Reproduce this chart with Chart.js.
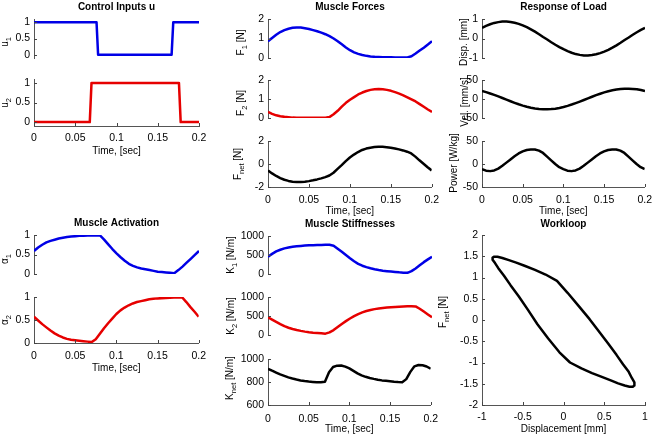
<!DOCTYPE html>
<html>
<head>
<meta charset="utf-8">
<script src="https://cdn.jsdelivr.net/npm/chart.js@4.4.0/dist/chart.umd.min.js"></script>
<style>
html, body { margin: 0; padding: 0; background: #fff; }
#fig { position: relative; width: 655px; height: 438px; overflow: hidden; }
#fig canvas { position: absolute; }
</style>
</head>
<body>
<div id="fig"></div>
<script>
// sample times, [sec]
const time = [0, 0.005, 0.01, 0.015, 0.02, 0.025, 0.03, 0.035, 0.04, 0.045, 0.05,
    0.055, 0.06, 0.065, 0.07, 0.075, 0.08, 0.085, 0.09, 0.095, 0.1,
    0.105, 0.11, 0.115, 0.12, 0.125, 0.13, 0.135, 0.14, 0.145, 0.15,
    0.155, 0.16, 0.165, 0.17, 0.175, 0.18, 0.185, 0.19, 0.195, 0.2];

// control inputs (switching points)
const u1Time = [0, 0.0758, 0.0777, 0.1668, 0.1688, 0.2];
const u1Val = [1, 1, 0, 0, 1, 1];
const u2Time = [0, 0.0676, 0.0697, 0.1757, 0.1778, 0.2];
const u2Val = [0, 0, 1, 1, 0, 0];

// muscle forces [N]
const force1 = [0.86, 1.03, 1.19, 1.33, 1.43, 1.50, 1.55, 1.57, 1.56, 1.53, 1.49,
    1.43, 1.37, 1.30, 1.22, 1.12, 1.00, 0.86, 0.70, 0.54, 0.40,
    0.29, 0.21, 0.15, 0.11, 0.08, 0.06, 0.05, 0.04, 0.04, 0.04,
    0.03, 0.03, 0.03, 0.03, 0.09, 0.23, 0.38, 0.53, 0.69, 0.86];
const force2 = [0.32, 0.22, 0.14, 0.09, 0.06, 0.04, 0.02, 0.01, 0.01, 0.01, 0.01,
    0.01, 0.01, 0.01, 0.01, 0.05, 0.20, 0.38, 0.60, 0.80, 0.96,
    1.10, 1.24, 1.34, 1.42, 1.48, 1.51, 1.52, 1.51, 1.48, 1.43,
    1.36, 1.28, 1.19, 1.09, 0.98, 0.87, 0.73, 0.59, 0.45, 0.32];
const forceNet = [-0.56, -0.82, -1.04, -1.22, -1.37, -1.47, -1.54, -1.57, -1.57, -1.54, -1.49,
    -1.42, -1.34, -1.25, -1.14, -1.00, -0.76, -0.43, -0.10, 0.25, 0.56,
    0.82, 1.04, 1.22, 1.34, 1.42, 1.47, 1.49, 1.49, 1.46, 1.41,
    1.35, 1.27, 1.18, 1.07, 0.92, 0.64, 0.32, 0.02, -0.28, -0.56];

// response of load
const disp = [0.55, 0.65, 0.73, 0.80, 0.84, 0.87, 0.87, 0.85, 0.81, 0.75, 0.67,
    0.58, 0.47, 0.35, 0.22, 0.08, -0.05, -0.19, -0.32, -0.44, -0.55,
    -0.65, -0.73, -0.80, -0.84, -0.87, -0.87, -0.85, -0.81, -0.75, -0.67,
    -0.58, -0.47, -0.35, -0.22, -0.08, 0.05, 0.19, 0.32, 0.44, 0.55];
const vel = [21, 18, 14.6, 10.8, 6.8, 2.6, -1.7, -5.9, -10, -13.9, -17.4,
    -20.5, -23, -25, -26.4, -27.2, -27.2, -26.6, -25.4, -23.5, -21,
    -18, -14.6, -10.8, -6.8, -2.6, 1.7, 5.9, 10, 13.9, 17.4,
    20.5, 23, 25, 26.4, 27.2, 27.2, 26.6, 25.4, 23.5, 21];
const power = [-11, -14.5, -15.5, -14, -10, -4, 3, 10, 17, 23, 27.5,
    30.5, 31.5, 31.5, 29, 24, 16, 8, 0, -7, -11,
    -14.5, -15.5, -14, -10, -4, 3, 10, 17, 23, 27.5,
    30.5, 31.5, 31.5, 29, 24, 16, 8, 0, -7, -11];

// muscle activation
const act1 = [0.59, 0.68, 0.75, 0.81, 0.85, 0.88, 0.91, 0.93, 0.95, 0.96, 0.97,
    0.98, 0.98, 0.99, 0.99, 0.99, 0.99, 0.88, 0.76, 0.64, 0.53,
    0.43, 0.34, 0.26, 0.21, 0.17, 0.14, 0.12, 0.10, 0.08, 0.06,
    0.05, 0.04, 0.03, 0.02, 0.10, 0.19, 0.29, 0.39, 0.49, 0.59];
const act2 = [0.57, 0.49, 0.41, 0.34, 0.27, 0.21, 0.16, 0.12, 0.09, 0.07, 0.06,
    0.05, 0.04, 0.03, 0.02, 0.08, 0.20, 0.32, 0.43, 0.53, 0.63,
    0.71, 0.77, 0.82, 0.86, 0.89, 0.91, 0.93, 0.95, 0.96, 0.97,
    0.975, 0.98, 0.985, 0.99, 0.99, 0.99, 0.89, 0.78, 0.68, 0.57];

// muscle stiffnesses [N/m]
const stiff1 = [456, 530, 594, 638, 674, 698, 717, 729, 739, 747, 754,
    758, 761, 764, 768, 772, 745, 665, 585, 500, 415,
    335, 268, 218, 181, 150, 123, 103, 87, 75, 65,
    53, 43, 36, 30, 75, 145, 228, 312, 385, 456];
const stiff2 = [465, 405, 348, 288, 232, 192, 159, 132, 109, 89, 72,
    60, 51, 43, 36, 70, 130, 210, 290, 365, 435,
    498, 551, 595, 630, 658, 681, 697, 710, 722, 732,
    740, 746, 750, 754, 758, 752, 690, 616, 540, 465];
const stiffNet = [915, 898, 882, 866, 853, 840, 830, 821, 813, 808, 804,
    801, 798, 797, 802, 885, 930, 942, 944, 934, 918,
    897, 875, 858, 845, 835, 827, 820, 814, 810, 806,
    802, 799, 797, 825, 888, 936, 948, 946, 935, 915];

// tick values
const timeTicks = [0, 0.05, 0.1, 0.15, 0.2];
const uTicks = [0, 0.5, 1];
const fTicks = [0, 1, 2];
const fNetTicks = [-2, 0, 2];
const dispTicks = [-1, 0, 1];
const velTicks = [-50, 0, 50];
const powerTicks = [-50, 0, 50];
const actTicks = [0, 0.5, 1];
const kTicks = [0, 500, 1000];
const kNetTicks = [600, 800, 1000];
const loopXTicks = [-1, -0.5, 0, 0.5, 1];
const loopYTicks = [-2, -1.5, -1, -0.5, 0, 0.5, 1, 1.5, 2];

const FONT = '"Liberation Sans", Arial, Helvetica, sans-serif';
const BLUE = '#0000e6';
const RED = '#e60000';
const BLACK = '#000000';
const fig = document.getElementById('fig');

function pts(xs, ys) {
    return xs.map((x, i) => ({ x: x, y: ys[i] }));
}

// titles, axis labels (with subscripts) and inward tick marks
const panelText = {
    id: 'panelText',
    afterDraw(chart, args, o) {
        const ctx = chart.ctx;
        const area = chart.chartArea;
        ctx.save();
        ctx.strokeStyle = '#444';
        ctx.lineWidth = 1;
        const ys = chart.scales.y;
        ys.ticks.forEach(t => {
            const p = Math.round(ys.getPixelForValue(t.value)) + 0.5;
            ctx.beginPath();
            ctx.moveTo(area.left, p);
            ctx.lineTo(area.left + 3, p);
            ctx.stroke();
        });
        if (o.showX) {
            const xs = chart.scales.x;
            xs.ticks.forEach(t => {
                const p = Math.round(xs.getPixelForValue(t.value)) + 0.5;
                ctx.beginPath();
                ctx.moveTo(p, area.bottom);
                ctx.lineTo(p, area.bottom - 3);
                ctx.stroke();
            });
        }
        ctx.fillStyle = '#000';
        const cx = (area.left + area.right) / 2;
        if (o.title) {
            ctx.font = 'bold 10px ' + FONT;
            ctx.textAlign = 'center';
            ctx.textBaseline = 'middle';
            ctx.fillText(o.title, cx, o.titleY - o.oy);
        }
        if (o.xlab) {
            ctx.font = '10px ' + FONT;
            ctx.textAlign = 'center';
            ctx.textBaseline = 'middle';
            ctx.fillText(o.xlab, cx, o.xlabY - o.oy);
        }
        if (o.ylab) {
            ctx.translate(o.ylabX - o.ox, o.ylabY - o.oy);
            ctx.rotate(-Math.PI / 2);
            ctx.textAlign = 'left';
            ctx.textBaseline = 'alphabetic';
            let total = 0;
            o.ylab.forEach(p => {
                ctx.font = (p[1] ? '7.5px ' : '10px ') + FONT;
                total += ctx.measureText(p[0]).width;
            });
            let x = -total / 2;
            o.ylab.forEach(p => {
                ctx.font = (p[1] ? '7.5px ' : '10px ') + FONT;
                ctx.fillText(p[0], x, p[1] ? 3 : 0);
                x += ctx.measureText(p[0]).width;
            });
        }
        ctx.restore();
    }
};

function panel(c) {
    const ml = 50, mt = 22, mr = 14;
    const mb = c.xTicks ? 36 : 8;
    const cw = c.w + ml + mr, ch = c.h + mt + mb;
    const ox = c.l - ml, oy = c.t - mt;
    const cv = document.createElement('canvas');
    cv.width = cw;
    cv.height = ch;
    cv.style.left = ox + 'px';
    cv.style.top = oy + 'px';
    cv.style.width = cw + 'px';
    cv.style.height = ch + 'px';
    fig.appendChild(cv);

    const tickFont = { family: FONT, size: 10.5 };
    new Chart(cv, {
        type: 'scatter',
        data: {
            datasets: c.series.map(s => ({
                data: s.data,
                showLine: true,
                borderColor: s.color,
                borderWidth: 2.5,
                borderJoinStyle: 'round',
                pointRadius: 0,
                tension: 0,
                fill: false
            }))
        },
        options: {
            responsive: false,
            animation: false,
            events: [],
            layout: { padding: { left: 0, top: mt, right: mr, bottom: c.xTicks ? 0 : mb } },
            plugins: {
                legend: { display: false },
                tooltip: { enabled: false },
                panelText: {
                    ox: ox, oy: oy, showX: !!c.xTicks,
                    title: c.title, titleY: c.titleY,
                    xlab: c.xlab, xlabY: c.xlabY,
                    ylab: c.ylab, ylabX: c.ylabX, ylabY: c.ylabY
                }
            },
            scales: {
                x: {
                    type: 'linear',
                    min: c.xMin, max: c.xMax,
                    display: !!c.xTicks,
                    afterBuildTicks: s => { if (c.xTicks) s.ticks = c.xTicks.map(v => ({ value: v })); },
                    afterFit: s => { s.height = mb; },
                    grid: { display: false, drawTicks: false },
                    border: { display: true, color: '#555', width: 1 },
                    ticks: { font: tickFont, color: '#000', padding: c.xPad || 7, maxRotation: 0, autoSkip: false,
                        callback: v => String(v) }
                },
                y: {
                    type: 'linear',
                    min: c.yMin, max: c.yMax,
                    afterBuildTicks: s => { s.ticks = c.yTicks.map(v => ({ value: v })); },
                    afterFit: s => { s.width = ml; },
                    grid: { display: false, drawTicks: false },
                    border: { display: true, color: '#555', width: 1 },
                    ticks: { font: tickFont, color: '#000', padding: 4, autoSkip: false,
                        callback: v => String(v) }
                }
            }
        },
        plugins: [panelText]
    });
}

// Control Inputs u
panel({ l: 34, t: 19, w: 165, h: 47, xMin: 0, xMax: 0.2, yMin: -0.1, yMax: 1.1, yTicks: uTicks,
    series: [{ data: pts(u1Time, u1Val), color: BLUE }],
    title: 'Control Inputs u', titleY: 7, ylab: [['u', 0], ['1', 1]], ylabX: 7.5, ylabY: 42 });
panel({ l: 34, t: 79, w: 165, h: 47, xMin: 0, xMax: 0.2, yMin: -0.1, yMax: 1.1, yTicks: uTicks, xTicks: timeTicks, xPad: 6,
    series: [{ data: pts(u2Time, u2Val), color: RED }],
    xlab: 'Time, [sec]', xlabY: 151.5, ylab: [['u', 0], ['2', 1]], ylabX: 7.5, ylabY: 103 });

// Muscle Forces
panel({ l: 268, t: 19, w: 164, h: 47, xMin: 0, xMax: 0.2, yMin: 0, yMax: 2, yTicks: fTicks,
    series: [{ data: pts(time, force1), color: BLUE }],
    title: 'Muscle Forces', titleY: 7, ylab: [['F', 0], ['1', 1], [' [N]', 0]], ylabX: 244, ylabY: 42.5 });
panel({ l: 268, t: 80, w: 164, h: 46, xMin: 0, xMax: 0.2, yMin: 0, yMax: 2, yTicks: fTicks,
    series: [{ data: pts(time, force2), color: RED }],
    ylab: [['F', 0], ['2', 1], [' [N]', 0]], ylabX: 244, ylabY: 103 });
panel({ l: 268, t: 141, w: 164, h: 46, xMin: 0, xMax: 0.2, yMin: -2, yMax: 2, yTicks: fNetTicks, xTicks: timeTicks,
    series: [{ data: pts(time, forceNet), color: BLACK }],
    xlab: 'Time, [sec]', xlabY: 211.5, ylab: [['F', 0], ['net', 1], [' [N]', 0]], ylabX: 240.5, ylabY: 164 });

// Response of Load
panel({ l: 482, t: 19, w: 163, h: 47, xMin: 0, xMax: 0.2, yMin: -1, yMax: 1, yTicks: dispTicks,
    series: [{ data: pts(time, disp), color: BLACK }],
    title: 'Response of Load', titleY: 7, ylab: [['Disp. [mm]', 0]], ylabX: 467, ylabY: 42 });
panel({ l: 482, t: 80, w: 163, h: 46, xMin: 0, xMax: 0.2, yMin: -50, yMax: 50, yTicks: velTicks,
    series: [{ data: pts(time, vel), color: BLACK }],
    ylab: [['Vel. [mm/s]', 0]], ylabX: 467.5, ylabY: 102 });
panel({ l: 482, t: 141, w: 163, h: 46, xMin: 0, xMax: 0.2, yMin: -50, yMax: 50, yTicks: powerTicks, xTicks: timeTicks,
    series: [{ data: pts(time, power), color: BLACK }],
    xlab: 'Time, [sec]', xlabY: 211.5, ylab: [['Power [W/kg]', 0]], ylabX: 456.5, ylabY: 163 });

// Muscle Activation
panel({ l: 34, t: 235, w: 165, h: 47, xMin: 0, xMax: 0.2, yMin: 0, yMax: 1, yTicks: actTicks,
    series: [{ data: pts(time, act1), color: BLUE }],
    title: 'Muscle Activation', titleY: 223.5, ylab: [['\u03b1', 0], ['1', 1]], ylabX: 8, ylabY: 259 });
panel({ l: 34, t: 297, w: 165, h: 46, xMin: 0, xMax: 0.2, yMin: 0, yMax: 1, yTicks: actTicks, xTicks: timeTicks,
    series: [{ data: pts(time, act2), color: RED }],
    xlab: 'Time, [sec]', xlabY: 368, ylab: [['\u03b1', 0], ['2', 1]], ylabX: 8, ylabY: 320 });

// Muscle Stiffnesses
panel({ l: 268, t: 236, w: 164, h: 46, xMin: 0, xMax: 0.2, yMin: 0, yMax: 1000, yTicks: kTicks,
    series: [{ data: pts(time, stiff1), color: BLUE }],
    title: 'Muscle Stiffnesses', titleY: 224, ylab: [['K', 0], ['1', 1], [' [N/m]', 0]], ylabX: 233.5, ylabY: 255 });
panel({ l: 268, t: 297, w: 164, h: 46, xMin: 0, xMax: 0.2, yMin: 0, yMax: 1000, yTicks: kTicks,
    series: [{ data: pts(time, stiff2), color: RED }],
    ylab: [['K', 0], ['2', 1], [' [N/m]', 0]], ylabX: 233.5, ylabY: 316 });
panel({ l: 268, t: 359, w: 164, h: 46, xMin: 0, xMax: 0.2, yMin: 600, yMax: 1000, yTicks: kNetTicks, xTicks: timeTicks, xPad: 8,
    series: [{ data: pts(time, stiffNet), color: BLACK }],
    xlab: 'Time, [sec]', xlabY: 429, ylab: [['K', 0], ['net', 1], [' [N/m]', 0]], ylabX: 233, ylabY: 378 });

// Workloop
panel({ l: 482, t: 235, w: 163, h: 170, xMin: -1, xMax: 1, yMin: -2, yMax: 2, yTicks: loopYTicks, xTicks: loopXTicks, xPad: 6,
    series: [{ data: pts(disp, forceNet), color: BLACK }],
    title: 'Workloop', titleY: 224, xlab: 'Displacement [mm]', xlabY: 429,
    ylab: [['F', 0], ['net', 1], [' [N]', 0]], ylabX: 446, ylabY: 312 });
</script>
</body>
</html>
